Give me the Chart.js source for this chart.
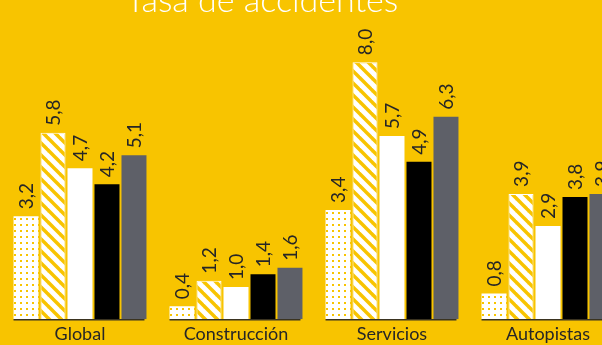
<!DOCTYPE html>
<html>
<head>
<meta charset="utf-8">
<script src="https://cdn.jsdelivr.net/npm/chart.js@4"></script>
<style>
    html, body { margin: 0; padding: 0; width: 602px; height: 345px; overflow: hidden; background: #F8C400; }
    #wrap { position: absolute; left: 0; top: 0; width: 628px; height: 345px; }
</style>
</head>
<body>
<div id="wrap"><canvas id="chart" width="628" height="345"></canvas></div>
<script>
// Data
const categories = ['Global', 'Construcción', 'Servicios', 'Autopistas'];
const seriesNames = ['Serie 1', 'Serie 2', 'Serie 3', 'Serie 4', 'Serie 5'];
const serie1 = [3.2, 0.4, 3.4, 0.8];
const serie2 = [5.8, 1.2, 8.0, 3.9];
const serie3 = [4.7, 1.0, 5.7, 2.9];
const serie4 = [4.2, 1.4, 4.9, 3.8];
const serie5 = [5.1, 1.6, 6.3, 3.9];
const titleText = 'Tasa de accidentes';

const YELLOW = '#F8C400';
const FONT = 'Lato, "Open Sans", sans-serif';

// Dotted pattern: white with small yellow squares
function dotPattern() {
    const c = document.createElement('canvas');
    c.width = 6; c.height = 6;
    const g = c.getContext('2d');
    g.fillStyle = '#ffffff';
    g.fillRect(0, 0, 6, 6);
    g.fillStyle = YELLOW;
    g.fillRect(2, 2, 2, 2);
    return g.createPattern(c, 'repeat');
}

// Diagonal stripes, white on yellow
function stripePattern() {
    const s = 12;
    const c = document.createElement('canvas');
    c.width = s; c.height = s;
    const g = c.getContext('2d');
    g.fillStyle = YELLOW;
    g.fillRect(0, 0, s, s);
    g.strokeStyle = '#ffffff';
    g.lineWidth = 5;
    [-s, 0, s].forEach(function(off) {
        g.beginPath();
        g.moveTo(-2, off - 2);
        g.lineTo(s + 2, s + off + 2);
        g.stroke();
    });
    return g.createPattern(c, 'repeat');
}

const fmt = v => v.toFixed(1).replace('.', ',');

// Rotated value labels above each bar
const valueLabels = {
    id: 'valueLabels',
    afterDatasetsDraw(chart) {
        const ctx = chart.ctx;
        ctx.save();
        ctx.fillStyle = '#262626';
        ctx.font = '19px ' + FONT;
        ctx.textAlign = 'left';
        ctx.textBaseline = 'middle';
        chart.data.datasets.forEach(function(ds, di) {
            const meta = chart.getDatasetMeta(di);
            meta.data.forEach(function(bar, i) {
                ctx.save();
                ctx.translate(bar.x + 1, bar.y - 7);
                ctx.rotate(-Math.PI / 2);
                ctx.fillText(fmt(ds.data[i]), 0, 0);
                ctx.restore();
            });
        });
        ctx.restore();
    }
};

// Short axis line under each group of bars
const groupAxis = {
    id: 'groupAxis',
    afterDatasetsDraw(chart) {
        const ctx = chart.ctx;
        const first = chart.getDatasetMeta(0).data;
        const last = chart.getDatasetMeta(chart.data.datasets.length - 1).data;
        const y = chart.chartArea.bottom + 0.5;
        ctx.save();
        ctx.strokeStyle = '#3a3320';
        ctx.lineWidth = 1.5;
        first.forEach(function(bar, i) {
            const x0 = bar.x - bar.width / 2;
            const x1 = last[i].x + last[i].width / 2 - 2;
            ctx.beginPath();
            ctx.moveTo(x0, y);
            ctx.lineTo(x1, y);
            ctx.stroke();
        });
        ctx.restore();
    }
};

// Title, cut at the top like the reference
const topTitle = {
    id: 'topTitle',
    afterDraw(chart) {
        const ctx = chart.ctx;
        ctx.save();
        ctx.fillStyle = '#ffffff';
        ctx.font = '300 34px ' + FONT;
        ctx.textAlign = 'center';
        ctx.textBaseline = 'alphabetic';
        ctx.fillText(titleText, 262, 12);
        ctx.restore();
    }
};

const ctx = document.getElementById('chart').getContext('2d');
const fills = [dotPattern(), stripePattern(), '#ffffff', '#000000', '#5E6068'];
const values = [serie1, serie2, serie3, serie4, serie5];

new Chart(ctx, {
    type: 'bar',
    data: {
        labels: categories,
        datasets: values.map(function(v, i) {
            return {
                label: seriesNames[i],
                data: v,
                backgroundColor: fills[i],
                borderColor: i === 1 ? '#ffffff' : 'rgba(0,0,0,0)',
                borderWidth: i === 1 ? 1 : 0,
                categoryPercentage: 0.865,
                barPercentage: 0.926
            };
        })
    },
    options: {
        responsive: false,
        animation: false,
        layout: { padding: { left: 2, right: 2, top: 30, bottom: -4 } },
        plugins: {
            legend: { display: false },
            tooltip: { enabled: false },
            title: { display: false }
        },
        scales: {
            x: {
                grid: { display: false, drawTicks: false },
                border: { display: false },
                ticks: {
                    color: '#262626',
                    font: { family: FONT, size: 18, weight: 400, lineHeight: 1.1 },
                    padding: 5
                }
            },
            y: {
                display: false,
                min: 0,
                max: 9
            }
        }
    },
    plugins: [valueLabels, groupAxis, topTitle]
});
</script>
</body>
</html>
